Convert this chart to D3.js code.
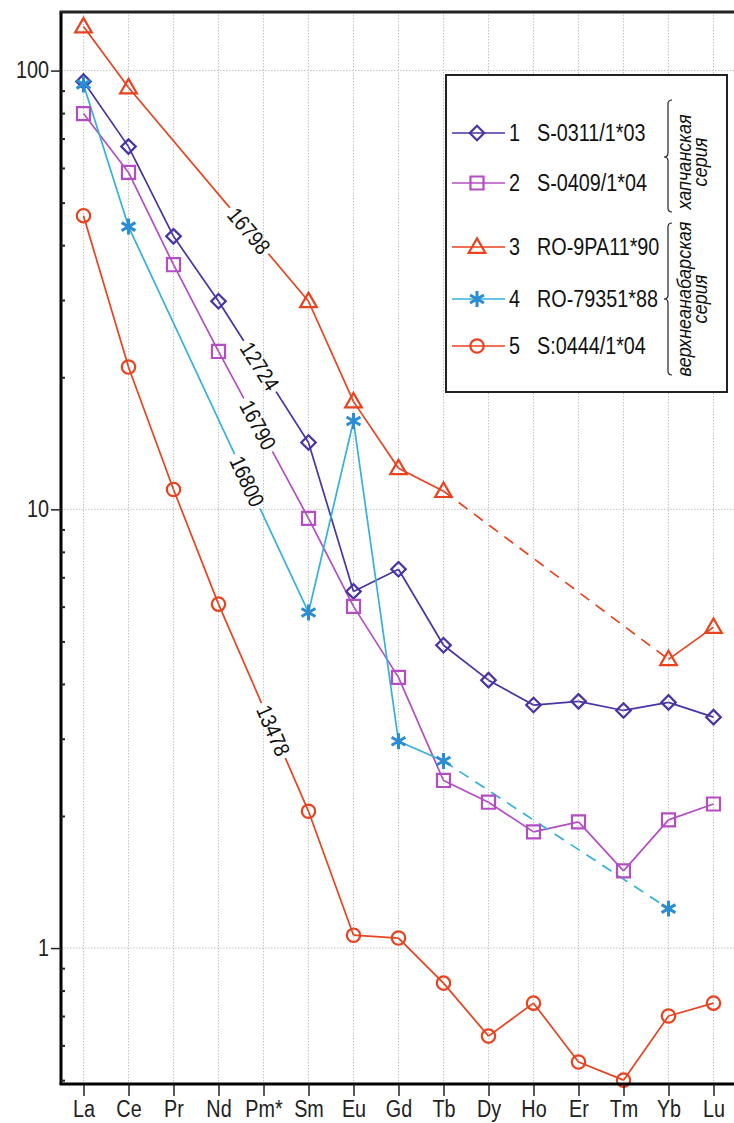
<!DOCTYPE html>
<html>
<head>
<meta charset="utf-8">
<script src="https://cdn.jsdelivr.net/npm/d3@7"></script>
<style>
  body { margin: 0; background: #fff; }
  text { font-family: "Liberation Sans", Arial, sans-serif; }
</style>
</head>
<body>
<div id="chart"></div>
<script>
// REE spider diagram, chondrite normalised
var elements = ["La", "Ce", "Pr", "Nd", "Pm*", "Sm", "Eu", "Gd", "Tb", "Dy", "Ho", "Er", "Tm", "Yb", "Lu"];

var s1 = [94.4, 67.1, 41.9, 29.8, null, 14.2, 6.5, 7.3, 4.9, 4.08, 3.58, 3.65, 3.48, 3.63, 3.36];
var s2 = [79.8, 58.6, 36.1, 22.9, null, 9.54, 6.01, 4.14, 2.41, 2.15, 1.84, 1.94, 1.50, 1.96, 2.13];
var s3 = [126, 91.5, null, null, null, 29.8, 17.6, 12.4, 11.0, null, null, null, null, 4.55, 5.39];
var s4 = [93, 44.1, null, null, null, 5.82, 15.9, 2.96, 2.67, null, null, null, null, 1.23, null];
var s5 = [46.7, 21.1, 11.1, 6.08, null, 2.05, 1.07, 1.054, 0.832, 0.630, 0.749, 0.550, 0.50, 0.70, 0.749];

var seriesNames = ["S-0311/1*03", "S-0409/1*04", "RO-9PA11*90", "RO-79351*88", "S:0444/1*04"];
var seriesColors = ["#4535a5", "#b34ec2", "#e8421f", "#33b1dc", "#e8421f"];
var markerColors = ["#4535a5", "#b34ec2", "#e8421f", "#2a8cd2", "#e8421f"];
var markerTypes = ["diamond", "square", "triangle", "asterisk", "circle"];

// segments drawn dashed (series index, from, to)
var dashedSegs = [[2, "Tb", "Yb"], [3, "Tb", "Yb"]];

// numbers written along lines (series index, from, to, text, position on segment)
var lineLabels = [
  [2, "Ce", "Sm", "16798", 0.67],
  [0, "Nd", "Sm", "12724", 0.46],
  [1, "Nd", "Sm", "16790", 0.44],
  [3, "Ce", "Sm", "16800", 0.66],
  [4, "Nd", "Sm", "13478", 0.61]
];

var yTicks = [1, 10, 100];
var yMinor = [0.5, 0.6, 0.7, 0.8, 0.9, 2, 3, 4, 5, 6, 7, 8, 9, 20, 30, 40, 50, 60, 70, 80, 90];

var W = 734, H = 1123;
var pLeft = 61, pRight = 736, pTop = 12, pBottom = 1084;
var narrow = 0.86; // the original lettering is a condensed face

var svg = d3.select("#chart").append("svg")
  .attr("width", W)
  .attr("height", H);

var x = d3.scalePoint().domain(elements).range([pLeft, pRight]).padding(0.5);
var y = d3.scaleLog().domain([0.49, 136]).range([pBottom, pTop]);

// grid
svg.append("g").selectAll("line").data(elements).enter().append("line")
  .attr("x1", function(d){ return x(d); })
  .attr("x2", function(d){ return x(d); })
  .attr("y1", pTop).attr("y2", pBottom)
  .attr("stroke", "#c4c4c4").attr("stroke-width", 1).attr("stroke-dasharray", "1.5,1.5");

svg.append("g").selectAll("line").data(yTicks).enter().append("line")
  .attr("x1", pLeft).attr("x2", pRight)
  .attr("y1", function(d){ return y(d); })
  .attr("y2", function(d){ return y(d); })
  .attr("stroke", "#c4c4c4").attr("stroke-width", 1).attr("stroke-dasharray", "1.5,1.5");

// lines
var allSeries = [s1, s2, s3, s4, s5];
var lineG = svg.append("g");
allSeries.forEach(function(vals, si){
  var pts = [];
  vals.forEach(function(v, i){ if (v != null) pts.push({el: elements[i], v: v}); });
  for (var k = 0; k < pts.length - 1; k++) {
    var a = pts[k], b = pts[k+1];
    var dashed = dashedSegs.some(function(d){ return d[0] == si && d[1] == a.el && d[2] == b.el; });
    lineG.append("line")
      .attr("x1", x(a.el)).attr("y1", y(a.v))
      .attr("x2", x(b.el)).attr("y2", y(b.v))
      .attr("stroke", seriesColors[si])
      .attr("stroke-width", 1.7)
      .attr("stroke-dasharray", dashed ? "11,8" : null);
  }
});

// labels on lines
lineLabels.forEach(function(l){
  var vals = allSeries[l[0]];
  var x1 = x(l[1]), y1 = y(vals[elements.indexOf(l[1])]);
  var x2 = x(l[2]), y2 = y(vals[elements.indexOf(l[2])]);
  var cx = x1 + (x2 - x1) * l[4], cy = y1 + (y2 - y1) * l[4];
  var ang = Math.atan2(y2 - y1, x2 - x1) * 180 / Math.PI;
  var g = svg.append("g").attr("transform", "translate(" + cx + "," + cy + ") rotate(" + ang + ")");
  g.append("rect").attr("x", -30).attr("y", -4).attr("width", 60).attr("height", 8).attr("fill", "#fff");
  g.append("text").attr("text-anchor", "middle").attr("dy", "0.36em")
    .attr("transform", "scale(" + narrow + ",1)")
    .attr("font-size", 22).attr("fill", "#111").text(l[3]);
});

// markers
function markerPath(type){
  if (type == "diamond") return d3.symbol().type(d3.symbolSquare).size(105)();
  if (type == "square") return d3.symbol().type(d3.symbolSquare).size(170)();
  if (type == "triangle") return d3.symbol().type(d3.symbolTriangle).size(120)();
  if (type == "asterisk") return d3.symbol().type(d3.symbolAsterisk).size(180)();
  return d3.symbol().type(d3.symbolCircle).size(140)();
}
function markerTransform(type, px, py){
  var t = "translate(" + px + "," + py + ")";
  if (type == "diamond") t += " rotate(45)";
  if (type == "triangle") t += " translate(0,1)";
  return t;
}
allSeries.forEach(function(vals, si){
  var type = markerTypes[si];
  svg.append("g").selectAll("path")
    .data(vals.map(function(v, i){ return {el: elements[i], v: v}; }).filter(function(d){ return d.v != null; }))
    .enter().append("path")
    .attr("d", markerPath(type))
    .attr("transform", function(d){ return markerTransform(type, x(d.el), y(d.v)); })
    .attr("fill", "none")
    .attr("stroke", markerColors[si])
    .attr("stroke-width", type == "asterisk" ? 3 : 2.2);
});

// axes
var yAxis = svg.append("g")
  .attr("transform", "translate(" + pLeft + ",0)")
  .call(d3.axisLeft(y).tickValues(yTicks).tickFormat(d3.format("d")).tickSize(10).tickSizeOuter(0));
yAxis.select(".domain").attr("stroke-width", 3).attr("d", "M0," + pTop + "V" + pBottom);
yAxis.selectAll(".tick line").attr("stroke-width", 1.5).attr("stroke", "#222");
yAxis.selectAll("text").attr("x", 0).attr("transform", "translate(-12,0) scale(" + narrow + ",1)")
  .attr("font-size", 23).attr("fill", "#222");

svg.append("g")
  .attr("transform", "translate(" + pLeft + ",0)")
  .call(d3.axisRight(y).tickValues(yMinor).tickFormat("").tickSize(4).tickSizeOuter(0))
  .call(function(g){ g.select(".domain").remove(); })
  .selectAll("line").attr("stroke-width", 2).attr("stroke", "#222");

var xAxis = svg.append("g")
  .attr("transform", "translate(0," + pBottom + ")")
  .call(d3.axisBottom(x).tickSize(12).tickSizeOuter(0).tickPadding(5));
xAxis.select(".domain").attr("stroke-width", 3).attr("d", "M" + (pLeft - 1.5) + ",0H" + pRight);
xAxis.selectAll(".tick line").attr("stroke-width", 1.5).attr("stroke", "#222");
xAxis.selectAll("text").attr("transform", "scale(" + narrow + ",1)")
  .attr("font-size", 23).attr("fill", "#222");

svg.append("line")
  .attr("x1", pLeft - 1.5).attr("x2", pRight)
  .attr("y1", pTop).attr("y2", pTop)
  .attr("stroke", "#222").attr("stroke-width", 3);

// legend
var legend = svg.append("g");
legend.append("rect")
  .attr("x", 446).attr("y", 75).attr("width", 281).attr("height", 317)
  .attr("fill", "#fff").attr("stroke", "#222").attr("stroke-width", 2);

var legendY = [133, 183, 247, 299, 346];
seriesNames.forEach(function(name, i){
  var row = legend.append("g").attr("transform", "translate(0," + legendY[i] + ")");
  row.append("line").attr("x1", 452).attr("x2", 505).attr("y1", 0).attr("y2", 0)
    .attr("stroke", seriesColors[i]).attr("stroke-width", 1.7);
  row.append("path").attr("d", markerPath(markerTypes[i]))
    .attr("transform", markerTransform(markerTypes[i], 477, 0))
    .attr("fill", "none").attr("stroke", markerColors[i])
    .attr("stroke-width", markerTypes[i] == "asterisk" ? 3 : 2.2);
  row.append("text").attr("transform", "translate(509,8) scale(" + narrow + ",1)")
    .attr("font-size", 23).attr("fill", "#111").text(i + 1);
  row.append("text").attr("transform", "translate(537,8) scale(" + narrow + ",1)")
    .attr("font-size", 23).attr("fill", "#111").text(name);
});

// braces with group names
var groups = [
  {top: 100, mid: 157, bot: 212, c: 162, l1: "хапчанская", l2: "серия"},
  {top: 223, mid: 299, bot: 375, c: 299, l1: "верхнеанабарская", l2: "серия"}
];
groups.forEach(function(g){
  var bx = 668;
  legend.append("path")
    .attr("d", "M" + (bx + 4) + "," + g.top + " Q" + bx + "," + g.top + " " + bx + "," + (g.top + 4) +
      " L" + bx + "," + (g.mid - 4) + " Q" + bx + "," + g.mid + " " + (bx - 4) + "," + g.mid +
      " Q" + bx + "," + g.mid + " " + bx + "," + (g.mid + 4) +
      " L" + bx + "," + (g.bot - 4) + " Q" + bx + "," + g.bot + " " + (bx + 4) + "," + g.bot)
    .attr("fill", "none").attr("stroke", "#222").attr("stroke-width", 1.2);
  legend.append("text").attr("transform", "translate(691," + g.c + ") rotate(-90) scale(" + narrow + ",1)")
    .attr("text-anchor", "middle").attr("font-size", 21).attr("font-style", "italic")
    .attr("fill", "#111").text(g.l1);
  legend.append("text").attr("transform", "translate(707," + g.c + ") rotate(-90) scale(" + narrow + ",1)")
    .attr("text-anchor", "middle").attr("font-size", 21).attr("font-style", "italic")
    .attr("fill", "#111").text(g.l2);
});
</script>
</body>
</html>
